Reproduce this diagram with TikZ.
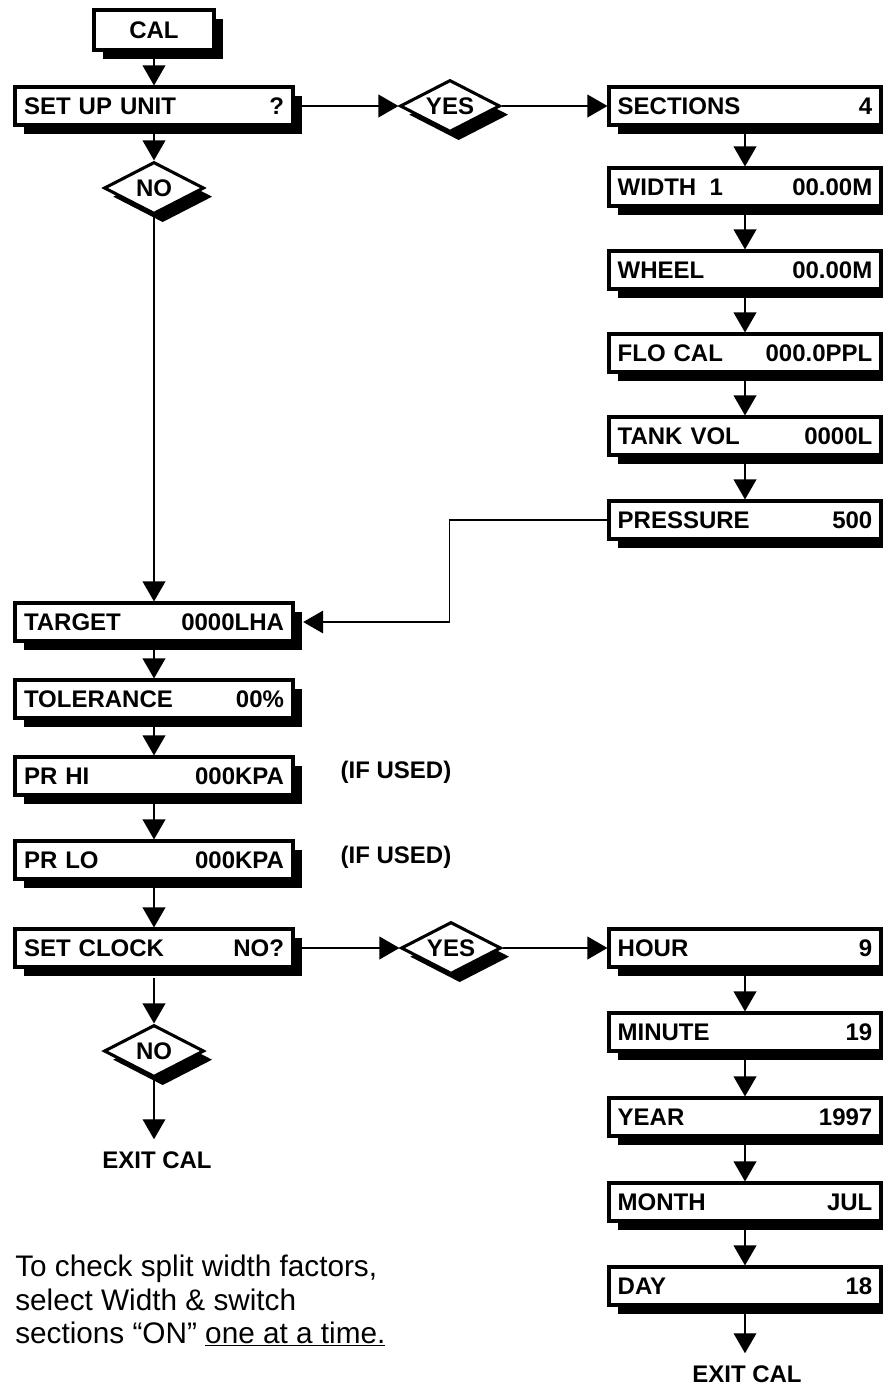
\documentclass[tikz,border=0pt]{standalone}
\usepackage{fontspec}
\setmainfont{Liberation Sans}
\usetikzlibrary{shapes.geometric,shadows,arrows.meta}
\begin{document}
\begin{tikzpicture}[x=0.75pt,y=-0.75pt,
  shad/.style={drop shadow={shadow xshift=6.5pt,shadow yshift=-6.5pt,opacity=1,fill=black}},
  boxfont/.style={font=\bfseries\fontsize{18}{21}\selectfont},
  box/.style={draw, line width=2.3pt, fill=white, inner sep=0pt, minimum height=28.5pt, boxfont, shad},
  lbox/.style={box, minimum width=208.5pt, text width=195pt, align=left},
  rbox/.style={box, minimum width=204pt, text width=191pt, align=left},
  dia/.style={diamond, aspect=2, draw, line width=2.3pt, fill=white, inner sep=0pt, minimum width=75pt, minimum height=39pt, boxfont, shad},
  arr/.style={line width=1.1pt, -{Triangle[length=15pt,width=17pt]}},
  lab/.style={boxfont, inner sep=0pt},
  exitlab/.style={boxfont, inner xsep=0pt, inner ysep=9pt}
]
\useasboundingbox (0,0) rectangle (882,1385);

% left column
\node[box, minimum width=90pt, minimum height=30pt] (cal) at (154,30) {CAL};
\node[lbox] (setup) at (154,106) {SET UP UNIT\hfill ?};
\node[dia] (no1) at (154,188) {NO};
\node[lbox] (target) at (154,622) {TARGET\hfill 0000LHA};
\node[lbox] (tol) at (154,699) {TOLERANCE\hfill 00\%};
\node[lbox] (prhi) at (154,776) {PR HI\hfill 000KPA};
\node[lbox] (prlo) at (154,860) {PR LO\hfill 000KPA};
\node[lbox] (clock) at (154,948) {SET CLOCK\hfill NO?};
\node[dia] (no2) at (154,1051) {NO};
\node[exitlab] (exit1) at (157,1160) {EXIT CAL};

\node[lab] (ifhi) at (396,772) {(IF USED)};
\node[lab] (iflo) at (396,857) {(IF USED)};

% yes diamonds
\node[dia] (yes1) at (450,106) {YES};
\node[dia] (yes2) at (451,948) {YES};

% right column top
\node[rbox] (sect) at (745,106) {SECTIONS\hfill 4};
\node[rbox] (width) at (745,187) {WIDTH\hspace{0.55em}1\hfill 00.00M};
\node[rbox] (wheel) at (745,270) {WHEEL\hfill 00.00M};
\node[rbox] (flo) at (745,353) {FLO CAL\hfill 000.0PPL};
\node[rbox] (tank) at (745,436) {TANK VOL\hfill 0000L};
\node[rbox] (press) at (745,520) {PRESSURE\hfill 500};

% right column bottom
\node[rbox] (hour) at (745,948) {HOUR\hfill 9};
\node[rbox] (minute) at (745,1032) {MINUTE\hfill 19};
\node[rbox] (year) at (745,1117) {YEAR\hfill 1997};
\node[rbox] (month) at (745,1202) {MONTH\hfill JUL};
\node[rbox] (day) at (745,1286) {DAY\hfill 18};
\node[exitlab] (exit2) at (747,1374) {EXIT CAL};

% note
\node[anchor=north west, align=left, inner sep=0pt, font=\fontsize{22.3}{24.9}\selectfont] (note) at (15,1255)
  {To check split width factors,\\select Width \& switch\\sections “ON” \underline{one at a time.}};

% connectors
\draw[arr] (cal) -- (setup);
\draw[arr] (setup) -- (no1.north);
\draw[arr] (no1.south) -- (target);
\draw[arr] (setup.east) -- (yes1.west);
\draw[arr] (yes1.east) -- (sect.west);
\draw[arr] (sect) -- (width);
\draw[arr] (width) -- (wheel);
\draw[arr] (wheel) -- (flo);
\draw[arr] (flo) -- (tank);
\draw[arr] (tank) -- (press);
\draw[arr] (press.west) -- ++(-158,0) |- ([xshift=6.5pt]target.east);
\draw[arr] (target) -- (tol);
\draw[arr] (tol) -- (prhi);
\draw[arr] (prhi) -- (prlo);
\draw[arr] (prlo) -- (clock);
\draw[arr] (clock.east) -- (yes2.west);
\draw[arr] (yes2.east) -- (hour.west);
\draw[arr] ([yshift=-7pt]clock.south) -- (no2.north);
\draw[arr] (no2.south) -- (no2.south |- exit1.north);
\draw[arr] (hour) -- (minute);
\draw[arr] (minute) -- (year);
\draw[arr] (year) -- (month);
\draw[arr] (month) -- (day);
\draw[arr] (day) -- (day.south |- exit2.north);
\end{tikzpicture}
\end{document}
